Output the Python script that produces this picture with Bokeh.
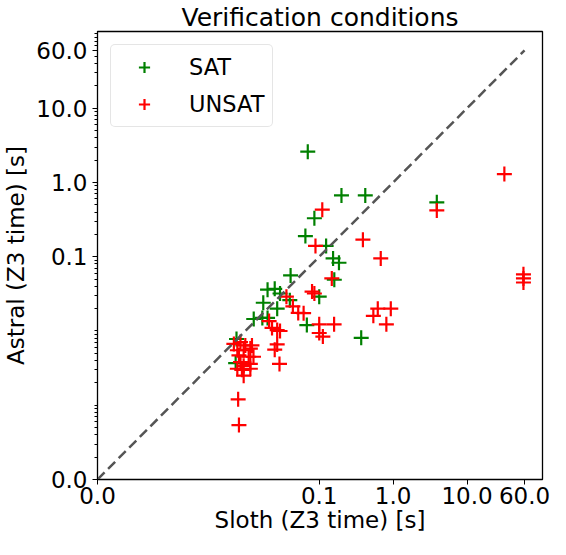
from bokeh.plotting import figure
from bokeh.models import FixedTicker, Range1d, CustomJSTickFormatter
from bokeh.embed import file_html
from bokeh.resources import INLINE

# SAT verification conditions: (Sloth time, Astral time) in seconds
sat_x = [0.070, 0.20, 0.42, 3.9, 0.086, 0.065, 0.124, 0.154, 0.185, 0.041,
         0.16, 0.10, 0.068, 0.37, 0.020, 0.025, 0.0295, 0.0175, 0.040, 0.027,
         0.013, 0.017, 0.020, 0.0076, 0.0074]
sat_y = [2.6, 0.67, 0.67, 0.54, 0.33, 0.19, 0.14, 0.095, 0.083, 0.056,
         0.049, 0.029, 0.012, 0.0081, 0.036, 0.037, 0.032, 0.024, 0.026, 0.020,
         0.0145, 0.015, 0.015, 0.0078, 0.0037]

# UNSAT verification conditions
unsat_x = [32, 3.9, 0.11, 0.39, 0.089, 0.68, 58, 58, 58, 0.148,
           0.080, 0.086, 0.036, 0.044, 0.052, 0.0615, 0.10, 0.159, 0.10, 0.112,
           0.62, 0.93, 0.54, 0.81, 0.021, 0.023, 0.027, 0.0295, 0.027, 0.025,
           0.029, 0.008, 0.0082,
           0.0070, 0.0086, 0.0100, 0.0123, 0.0078, 0.0095, 0.0117, 0.0082, 0.0111,
           0.0129, 0.0086, 0.0095, 0.0117, 0.0078, 0.0090, 0.0117, 0.0095]
unsat_y = [1.3, 0.42, 0.43, 0.17, 0.14, 0.095, 0.058, 0.051, 0.045, 0.051,
           0.034, 0.032, 0.029, 0.0215, 0.0175, 0.0174, 0.0123, 0.0123, 0.0094, 0.0084,
           0.020, 0.020, 0.016, 0.0123, 0.0136, 0.011, 0.0103, 0.010, 0.0066, 0.0056,
           0.0036, 0.0012, 0.00054,
           0.0067, 0.0071, 0.0064, 0.0064, 0.0055, 0.0055, 0.0058, 0.0047, 0.0045,
           0.0045, 0.0038, 0.0034, 0.0036, 0.0031, 0.0030, 0.0031, 0.0025]

diag = [1e-4, 60]
tick_values = [1e-4, 0.1, 1, 10, 60]

FONT = "DejaVu Sans"

p = figure(width=550, height=539, x_axis_type="log", y_axis_type="log",
           x_range=Range1d(1e-4, 105), y_range=Range1d(1e-4, 108),
           output_backend="svg", toolbar_location=None,
           min_border_left=95, min_border_right=8, min_border_top=25, min_border_bottom=60,
           title="Verification conditions")

p.title.text_font = FONT
p.title.text_font_size = "25px"
p.title.text_font_style = "normal"
p.title.text_color = "black"
p.title.align = "center"
p.title.standoff = 0

p.scatter(sat_x, sat_y, marker="cross", size=15, line_color="#008000", line_width=2.2,
          legend_label="SAT")
p.scatter(unsat_x, unsat_y, marker="cross", size=15, line_color="#ff0000", line_width=2.2,
          legend_label="UNSAT")
p.line(diag, diag, line_dash="10 5", line_color="#555555", line_width=2.5)

minor = [m * 10.0 ** k for k in range(-4, 3) for m in range(1, 10)]
minor = [v for v in minor if 1e-4 < v <= 108 and v not in (0.1, 1, 10)]

p.xaxis.ticker = FixedTicker(ticks=tick_values, minor_ticks=[])
p.yaxis.ticker = FixedTicker(ticks=tick_values, minor_ticks=minor)
fmt = CustomJSTickFormatter(code="return tick < 0.001 ? '0.0' : tick.toFixed(1);")
p.xaxis.formatter = fmt
p.yaxis.formatter = fmt

for ax in (p.xaxis[0], p.yaxis[0]):
    ax.major_label_text_font = FONT
    ax.major_label_text_font_size = "23px"
    ax.axis_label_text_font = FONT
    ax.axis_label_text_font_size = "23px"
    ax.axis_label_text_font_style = "normal"
    ax.major_tick_in = 0
    ax.major_tick_out = 5
    ax.minor_tick_in = 0
    ax.minor_tick_out = 3
    ax.axis_line_color = "black"
    ax.major_tick_line_color = "black"
    ax.minor_tick_line_color = "black"
    ax.major_label_text_color = "black"
    ax.axis_label_text_color = "black"

p.xaxis.axis_label = "Sloth (Z3 time) [s]"
p.yaxis.axis_label = "Astral (Z3 time) [s]"
p.xaxis.major_label_standoff = 2
p.yaxis.major_label_standoff = 5
p.xaxis.axis_label_standoff = 0
p.yaxis.axis_label_standoff = 4

p.grid.visible = False
p.outline_line_color = "black"
p.outline_line_width = 1.3

lg = p.legend[0]
lg.location = "top_left"
lg.margin = 13
lg.padding = 8
lg.spacing = 9
lg.label_height = 28
lg.glyph_height = 28
lg.glyph_width = 50
lg.label_standoff = 20
lg.label_text_font = FONT
lg.label_text_font_size = "22.5px"
lg.label_text_color = "black"
lg.border_line_color = "#cccccc"
lg.border_line_width = 1
lg.border_radius = 5
lg.background_fill_alpha = 0.8

open("out.html", "w").write(file_html(p, INLINE))
